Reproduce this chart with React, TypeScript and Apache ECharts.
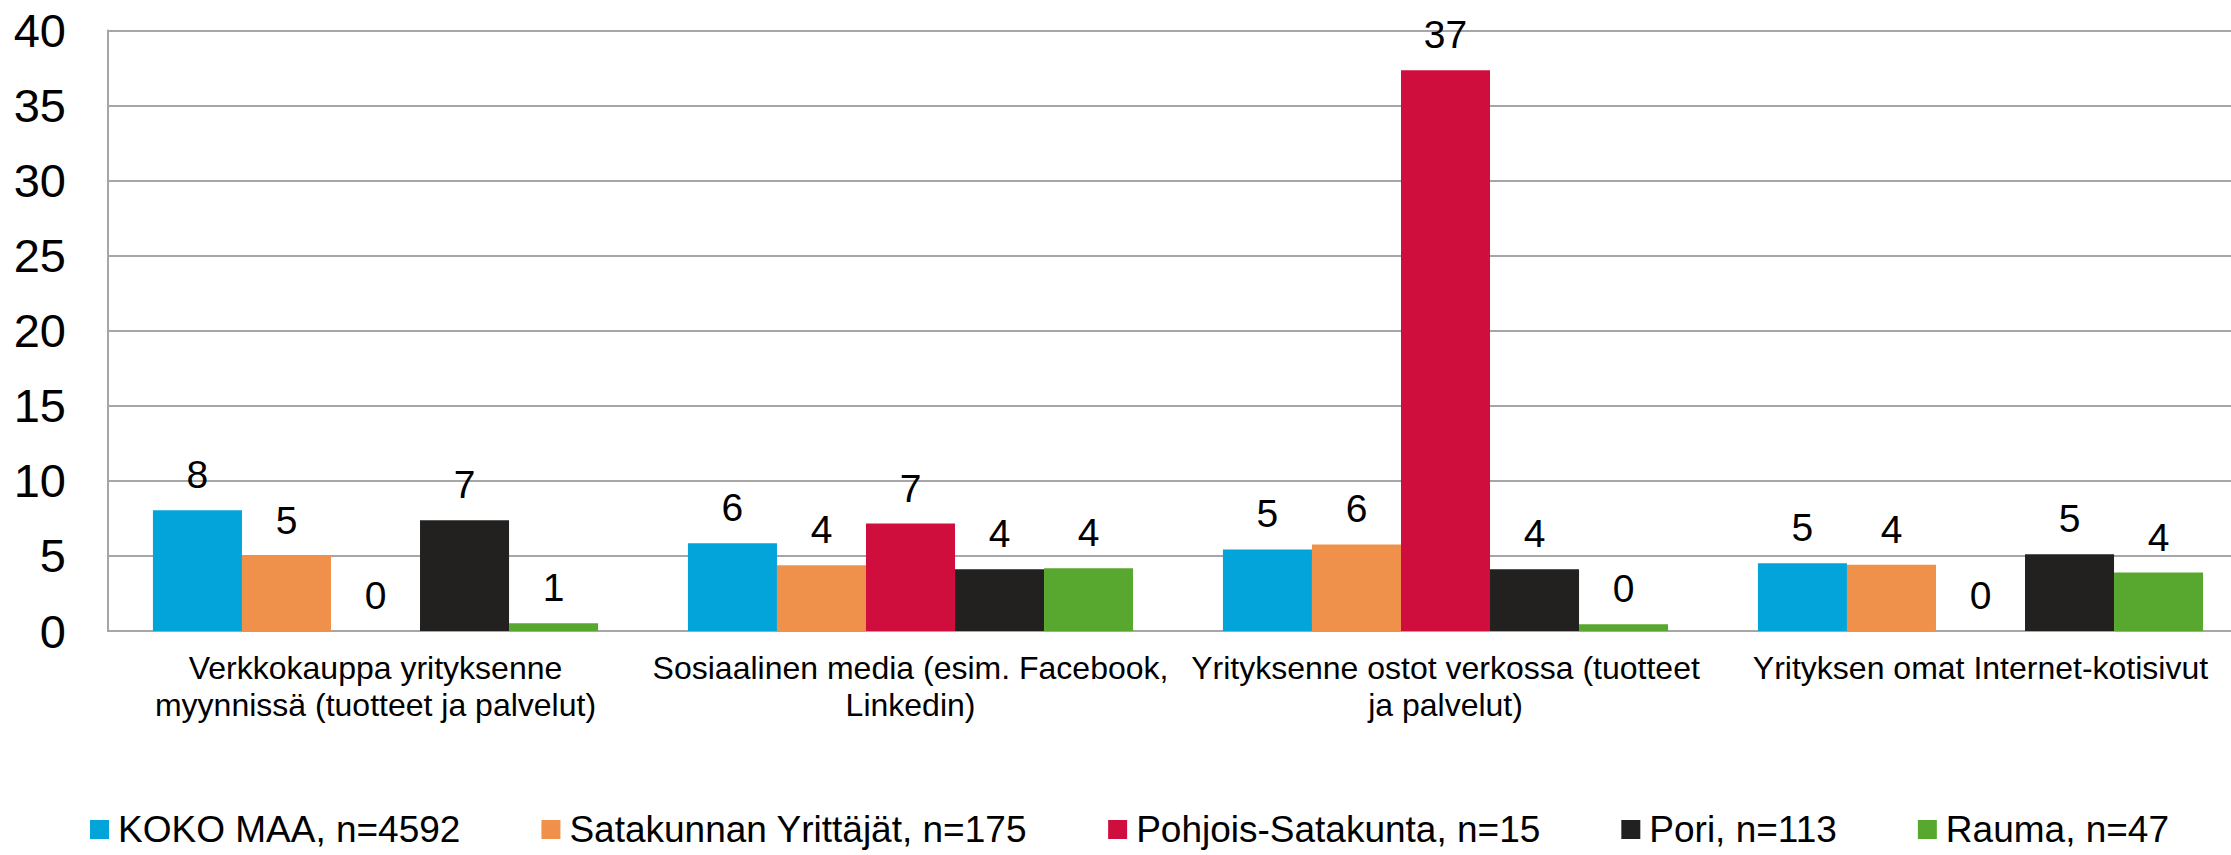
import React, { useEffect, useRef } from "react";
import * as echarts from "echarts";

const categories = [
  "Verkkokauppa yrityksenne\nmyynnissä (tuotteet ja palvelut)",
  "Sosiaalinen media (esim. Facebook,\nLinkedin)",
  "Yrityksenne ostot verkossa (tuotteet\nja palvelut)",
  "Yrityksen omat Internet-kotisivut",
];

const seriesNames = [
  "KOKO MAA, n=4592",
  "Satakunnan Yrittäjät, n=175",
  "Pohjois-Satakunta, n=15",
  "Pori, n=113",
  "Rauma, n=47",
];

const kokoMaa = [8.04, 5.85, 5.43, 4.52];
const satakunnan = [5.01, 4.38, 5.77, 4.42];
const pohjois = [0, 7.16, 37.35, 0];
const pori = [7.37, 4.11, 4.11, 5.12];
const rauma = [0.52, 4.18, 0.45, 3.89];

const seriesValues = [kokoMaa, satakunnan, pohjois, pori, rauma];
const colors = ["#03A4DA", "#F0914B", "#CF0E3E", "#22211F", "#58A82F"];

const yTicks = { min: 0, max: 40, interval: 5 };

const FONT = "'Liberation Sans', Arial, sans-serif";

export default function App() {
  const ref = useRef<HTMLDivElement>(null);

  useEffect(() => {
    document.body.style.margin = "0";
    document.body.style.overflow = "hidden";
    if (!ref.current) return;
    const chart = echarts.init(ref.current, null, { renderer: "svg" });
    chart.setOption({
      animation: false,
      color: colors,
      textStyle: { fontFamily: FONT },
      grid: {
        left: 108,
        top: 30.5,
        bottom: 224,
        right: -17,
        containLabel: false,
        outerBoundsMode: "none",
      },
      legend: {
        left: 85,
        top: 806,
        itemWidth: 19,
        itemHeight: 19,
        itemGap: 81,
        icon: "rect",
        textStyle: {
          fontFamily: FONT,
          fontSize: 37,
          color: "#000",
          lineHeight: 37,
          padding: [0, 0, 0, 4],
        },
        data: seriesNames,
      },
      xAxis: {
        type: "category",
        data: categories,
        axisTick: { show: false },
        axisLine: { show: true, lineStyle: { color: "#a6a6a6", width: 2 } },
        axisLabel: {
          fontFamily: FONT,
          fontSize: 32,
          lineHeight: 37,
          color: "#000",
          margin: 18,
          interval: 0,
        },
      },
      yAxis: {
        type: "value",
        min: yTicks.min,
        max: yTicks.max,
        interval: yTicks.interval,
        axisLine: { show: true, lineStyle: { color: "#a6a6a6", width: 2 } },
        axisTick: { show: false },
        splitLine: { show: true, lineStyle: { color: "#a6a6a6", width: 2 } },
        axisLabel: {
          fontFamily: FONT,
          fontSize: 47,
          color: "#000",
          margin: 42,
        },
      },
      series: seriesNames.map((name, i) => ({
        name,
        type: "bar",
        data: seriesValues[i],
        barGap: "0%",
        barCategoryGap: "16.8%",
        itemStyle: { color: colors[i] },
        label: {
          show: true,
          position: "top",
          distance: 16,
          fontFamily: FONT,
          fontSize: 39,
          lineHeight: 39,
          color: "#000",
          formatter: (p: any) => String(Math.round(p.value)),
        },
      })),
    });
    return () => chart.dispose();
  }, []);

  return <div ref={ref} style={{ width: 2231, height: 855 }} />;
}
